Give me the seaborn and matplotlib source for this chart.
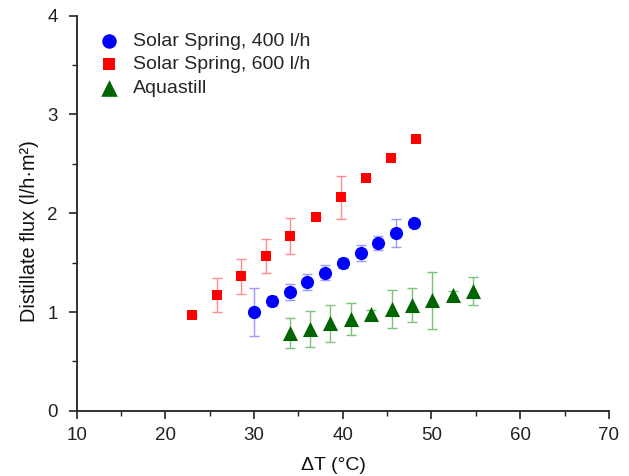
import matplotlib
matplotlib.use("Agg")
import matplotlib.pyplot as plt
from matplotlib.ticker import MultipleLocator
import seaborn as sns
import pandas as pd

# Data
x_400 = [30, 32, 34, 36, 38, 40, 42, 44, 46, 48]
y_400 = [1.00, 1.11, 1.20, 1.30, 1.40, 1.50, 1.60, 1.70, 1.80, 1.90]
e_400 = [0.24, 0.05, 0.08, 0.08, 0.08, 0.05, 0.08, 0.07, 0.14, 0.0]

x_600 = [23.0, 25.8, 28.5, 31.3, 34.1, 37.0, 39.8, 42.6, 45.4, 48.2]
y_600 = [0.97, 1.17, 1.36, 1.57, 1.77, 1.96, 2.16, 2.36, 2.56, 2.75]
e_600 = [0.0, 0.17, 0.18, 0.17, 0.18, 0.0, 0.22, 0.0, 0.0, 0.0]

x_aq = [34.0, 36.3, 38.6, 40.9, 43.2, 45.5, 47.8, 50.1, 52.4, 54.7]
y_aq = [0.79, 0.83, 0.885, 0.93, 0.98, 1.03, 1.07, 1.12, 1.17, 1.215]
e_aq = [0.15, 0.18, 0.19, 0.16, 0.04, 0.19, 0.17, 0.29, 0.04, 0.14]

labels = ["Solar Spring, 400 l/h", "Solar Spring, 600 l/h", "Aquastill"]

sns.set_theme(style="ticks")
plt.rcParams["font.family"] = ["Liberation Sans", "DejaVu Sans"]

df = pd.concat([
    pd.DataFrame({"x": x_400, "y": y_400, "e": e_400, "s": labels[0]}),
    pd.DataFrame({"x": x_600, "y": y_600, "e": e_600, "s": labels[1]}),
    pd.DataFrame({"x": x_aq, "y": y_aq, "e": e_aq, "s": labels[2]}),
], ignore_index=True)

fig = plt.figure(figsize=(6.29, 4.76), dpi=100)
ax = fig.add_axes([0.122, 0.137, 0.846, 0.830])

marker_cols = {labels[0]: "#0000ff", labels[1]: "#ff0000", labels[2]: "#006400"}
err_cols = {labels[0]: "#9a9aff", labels[1]: "#ff8c8c", labels[2]: "#7cc47c"}
markers = {labels[0]: "o", labels[1]: "s", labels[2]: "^"}
sizes = {labels[0]: 90, labels[1]: 62, labels[2]: 118}

for lab in labels:
    d = df[df["s"] == lab]
    ax.errorbar(d["x"], d["y"], yerr=d["e"], fmt="none", ecolor=err_cols[lab],
                elinewidth=1.0, capsize=3.6, capthick=1.0, zorder=2)

for lab in labels:
    d = df[df["s"] == lab]
    sns.scatterplot(data=d, x="x", y="y", ax=ax, color=marker_cols[lab],
                    marker=markers[lab], s=sizes[lab], linewidth=0,
                    label=lab, zorder=3)

ax.set_xlim(10, 70)
ax.set_ylim(0, 4)
ax.xaxis.set_major_locator(MultipleLocator(10))
ax.xaxis.set_minor_locator(MultipleLocator(5))
ax.yaxis.set_major_locator(MultipleLocator(1))
ax.yaxis.set_minor_locator(MultipleLocator(0.5))
ax.tick_params(which="major", direction="out", length=6, width=1.2,
               labelsize=13.5, colors="#222222")
ax.tick_params(axis="x", which="major", pad=5.5)
ax.tick_params(axis="y", which="major", pad=7.5)
ax.tick_params(which="minor", direction="out", length=3.5, width=1.0, colors="#222222")
for sp in ["top", "right"]:
    ax.spines[sp].set_visible(False)
for sp in ["left", "bottom"]:
    ax.spines[sp].set_linewidth(1.3)
    ax.spines[sp].set_color("#222222")

ax.set_xlabel("ΔT (°C)", fontsize=14, color="#111111")
ax.set_ylabel("Distillate flux (l/h·m²)", fontsize=14.3, color="#111111")
ax.xaxis.set_label_coords(0.482, -0.117)
ax.yaxis.set_label_coords(-0.071, 0.455)

leg = ax.legend(loc="upper left", bbox_to_anchor=(0.025, 0.978), frameon=False,
                fontsize=14, handletextpad=0.6, labelspacing=0.3,
                borderaxespad=0.0, handlelength=1.2, markerscale=1.1)

fig.savefig("out.png", dpi=100)
